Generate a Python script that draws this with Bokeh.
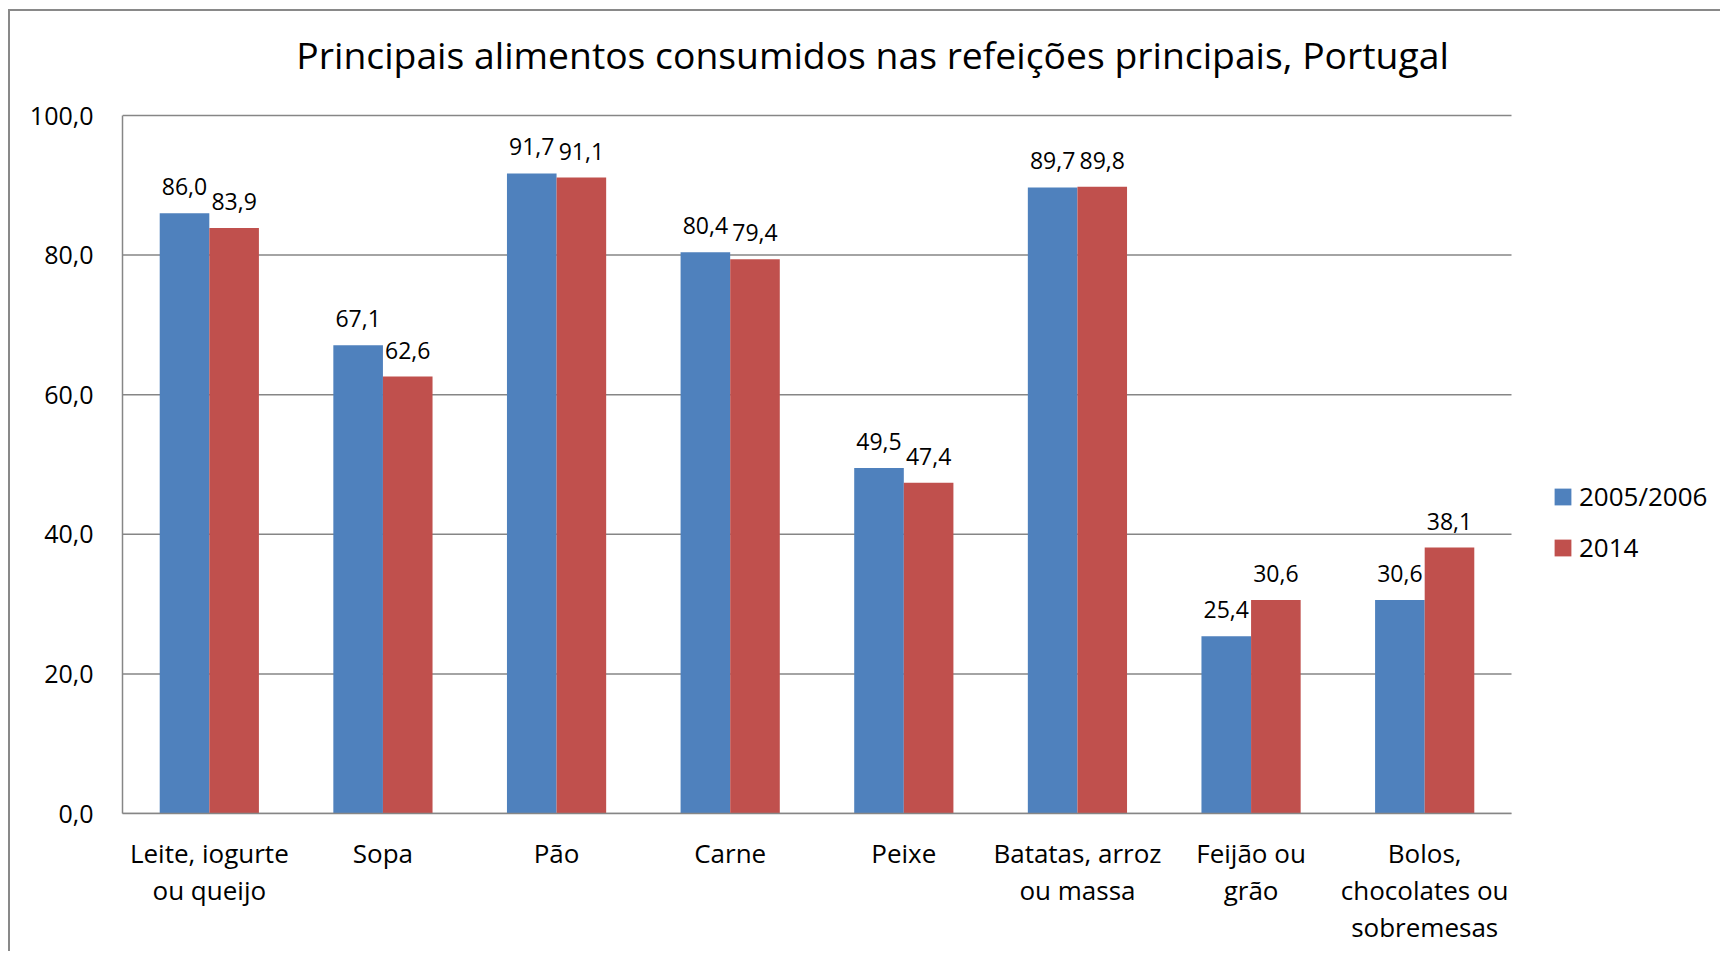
from bokeh.plotting import figure
from bokeh.models import (ColumnDataSource, Range1d, FixedTicker, LabelSet, Label,
                          Legend, LegendItem)
from bokeh.core.properties import value
from bokeh.embed import file_html
from bokeh.resources import INLINE

categories = ["Leite, iogurte\nou queijo", "Sopa", "Pão", "Carne", "Peixe",
              "Batatas, arroz\nou massa", "Feijão ou\ngrão", "Bolos,\nchocolates ou\nsobremesas"]
series_names = ["2005/2006", "2014"]
v2005 = [86.0, 67.1, 91.7, 80.4, 49.5, 89.7, 25.4, 30.6]
v2014 = [83.9, 62.6, 91.1, 79.4, 47.4, 89.8, 30.6, 38.1]
y_ticks = [0, 20, 40, 60, 80, 100]
y_tick_labels = ["0,0", "20,0", "40,0", "60,0", "80,0", "100,0"]
title_text = "Principais alimentos consumidos nas refeições principais, Portugal"

FONT = "Open Sans"
BLUE = "#4F81BD"
RED = "#C0504D"
GRID = "#868686"

def fmt(v):
    return f"{v:.1f}".replace(".", ",")

n = len(categories)
centers = [i + 0.5 for i in range(n)]
bw = 0.2857
src = ColumnDataSource(dict(xa=[c - bw / 2 for c in centers], xb=[c + bw / 2 for c in centers],
                            a=v2005, b=v2014,
                            la=[fmt(v) for v in v2005], lb=[fmt(v) for v in v2014]))

# the frame covers the whole canvas to the right and top, so that the legend and the
# title can sit outside the bar area; the axes are bounded to the data area
x_end = n * 1600 / 1389
y_end = 100 * 802 / 698
y_max = y_ticks[-1]
p = figure(x_range=Range1d(0, x_end), y_range=Range1d(0, y_end), title=None,
           width=1712, height=942, output_backend="svg", toolbar_location=None,
           min_border_left=112, min_border_top=0, min_border_bottom=140, min_border_right=0)
p.styles = {"margin-left": "8px", "margin-top": "9px",
            "border-left": "2px solid #898989", "border-top": "2px solid #898989"}

# horizontal gridlines limited to the category area
p.segment(x0=[0] * len(y_ticks), x1=[n] * len(y_ticks), y0=y_ticks, y1=y_ticks,
          line_color=GRID, line_width=1.5)

ra = p.vbar(x="xa", top="a", width=bw, source=src, fill_color=BLUE, line_color=None)
rb = p.vbar(x="xb", top="b", width=bw, source=src, fill_color=RED, line_color=None)

for xcol, col, lab in (("xa", "a", "la"), ("xb", "b", "lb")):
    ls = LabelSet(x=xcol, y=col, text=lab, source=src,
                  text_align="center", text_baseline="alphabetic", y_offset=18,
                  text_font=value(FONT), text_font_size="23px", text_color="#000000")
    p.add_layout(ls)

title = Label(x=4.32, y=y_max, y_offset=61, text=title_text, text_align="center",
              text_baseline="alphabetic", text_font=FONT, text_font_size="37.3px",
              text_color="#000000")
p.add_layout(title)

p.outline_line_color = None
p.background_fill_color = "white"
p.xgrid.grid_line_color = None
p.ygrid.grid_line_color = None
p.yaxis.ticker = FixedTicker(ticks=y_ticks)
p.yaxis.major_label_overrides = {t: l for t, l in zip(y_ticks, y_tick_labels)}
p.yaxis.bounds = (0, y_max)
p.xaxis.ticker = FixedTicker(ticks=centers)
p.xaxis.major_label_overrides = {c: l for c, l in zip(centers, categories)}
p.xaxis.bounds = (0, n)

for ax in (p.xaxis[0], p.yaxis[0]):
    ax.axis_line_color = GRID
    ax.axis_line_width = 1.5
    ax.major_tick_line_color = None
    ax.minor_tick_line_color = None
    ax.major_tick_out = 0
    ax.major_tick_in = 0
    ax.minor_tick_out = 0
    ax.minor_tick_in = 0
    ax.major_label_text_font = FONT
    ax.major_label_text_color = "#000000"

p.yaxis.major_label_text_font_size = "25px"
p.xaxis.major_label_text_font_size = "26px"
p.yaxis.major_label_standoff = 29
p.xaxis.major_label_standoff = 21
p.xaxis.major_label_text_line_height = 1.03

legend = Legend(items=[LegendItem(label=series_names[0], renderers=[ra]),
                       LegendItem(label=series_names[1], renderers=[rb])],
                location=(1430, 248), padding=0, margin=0, glyph_width=21, glyph_height=21,
                label_height=17, label_standoff=6, spacing=15,
                border_line_color=None, background_fill_alpha=0,
                label_text_font=FONT, label_text_font_size="26px", label_text_color="#000000")
p.add_layout(legend, "center")

open("out.html", "w").write(file_html(p, INLINE))
